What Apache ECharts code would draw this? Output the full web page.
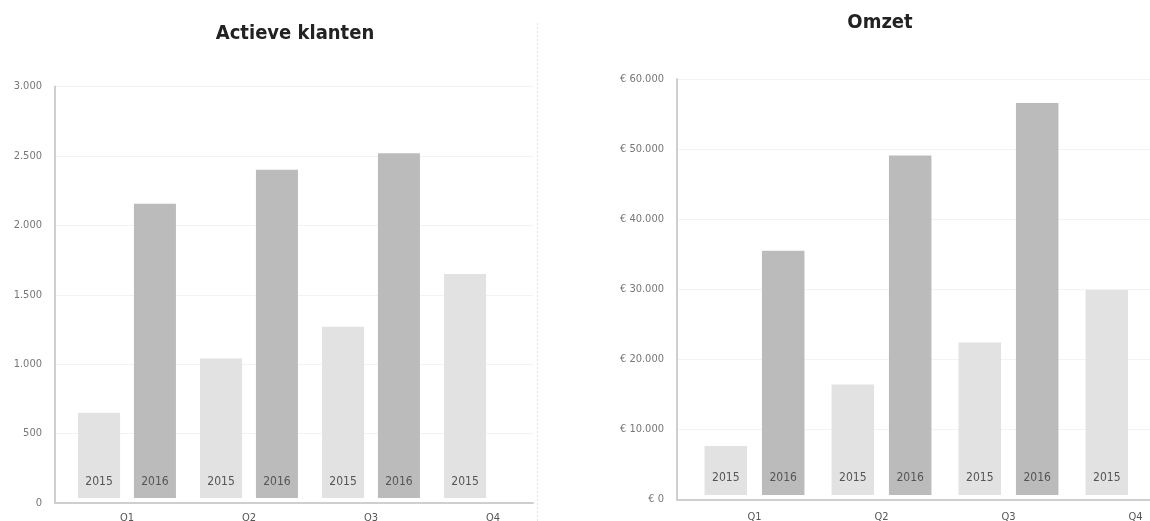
<!DOCTYPE html>
<html>
<head>
<meta charset="utf-8">
<script src="https://cdn.jsdelivr.net/npm/echarts@6/dist/echarts.min.js"></script>
<style>
html,body{margin:0;padding:0;background:#fff;}
#chart{width:1150px;height:521px;}
</style>
</head>
<body>
<div id="chart"></div>
<script>
// ---- data ----
const categories = ['Q1', 'Q2', 'Q3', 'Q4'];
const seriesNames = ['2015', '2016'];
const klanten2015 = [650, 1040, 1270, 1650];
const klanten2016 = [2155, 2400, 2520, null];
const omzet2015 = [7600, 16400, 22400, 29900];
const omzet2016 = [35500, 49100, 56600, null];
const klantenAxis = { min: 0, max: 3000, interval: 500 };
const omzetAxis = { min: 0, max: 60000, interval: 10000 };
const titles = ['Actieve klanten', 'Omzet'];

// ---- helpers ----
function nl(v) { return String(v).replace(/\B(?=(\d{3})+(?!\d))/g, '.'); }
const FONT = 'DejaVu Sans Condensed';
const C2015 = '#e2e2e2', C2016 = '#bbbbbb';

function barSeries(name, data, color, xi, yi, bw, gap) {
  return {
    type: 'bar', name: name, data: data, xAxisIndex: xi, yAxisIndex: yi,
    barWidth: bw, barGap: gap, itemStyle: { color: color },
    silent: true, z: 2,
    label: {
      show: true, position: 'insideBottom', distance: 15, formatter: '{a}',
      color: '#555', fontFamily: FONT, fontSize: 12
    }
  };
}

const chart = echarts.init(document.getElementById('chart'), null, { renderer: 'canvas' });
const axisLineStyle = { color: '#cfcfcf', width: 2 };
chart.setOption({
  animation: false,
  backgroundColor: '#fff',
  title: [
    { text: titles[0], left: 295, top: 24, textAlign: 'center', padding: 0,
      textStyle: { fontFamily: FONT, fontWeight: 'bold', fontSize: 20, color: '#222' } },
    { text: titles[1], left: 880, top: 13, textAlign: 'center', padding: 0,
      textStyle: { fontFamily: FONT, fontWeight: 'bold', fontSize: 20, color: '#222' } }
  ],
  grid: [
    { left: 55, top: 86.5, width: 478, height: 416.5, outerBoundsMode: 'none' },
    { left: 66, top: 86.5, width: 488, height: 416.5, outerBoundsMode: 'none' },
    { left: 677, top: 79.3, width: 473, height: 420, outerBoundsMode: 'none' },
    { left: 691, top: 79.3, width: 508, height: 420, outerBoundsMode: 'none' }
  ],
  xAxis: [
    { gridIndex: 0, type: 'category', data: categories, z: 6, axisLine: { lineStyle: axisLineStyle },
      axisTick: { show: false }, axisLabel: { show: false }, splitLine: { show: false } },
    { gridIndex: 1, type: 'category', data: categories, z: 5,
      axisLine: { show: true, lineStyle: { color: '#ffffff', width: 10 } },
      axisTick: { show: false },
      axisLabel: { margin: 10, color: '#555', fontFamily: FONT, fontSize: 11 } },
    { gridIndex: 2, type: 'category', data: categories, z: 6, axisLine: { lineStyle: axisLineStyle },
      axisTick: { show: false }, axisLabel: { show: false }, splitLine: { show: false } },
    { gridIndex: 3, type: 'category', data: categories, z: 5,
      axisLine: { show: true, lineStyle: { color: '#ffffff', width: 10 } },
      axisTick: { show: false },
      axisLabel: { margin: 12, color: '#555', fontFamily: FONT, fontSize: 11 } }
  ],
  yAxis: [
    { gridIndex: 0, type: 'value', min: klantenAxis.min, max: klantenAxis.max, interval: klantenAxis.interval,
      axisLine: { show: true, lineStyle: axisLineStyle }, axisTick: { show: false },
      splitLine: { lineStyle: { color: '#f3f3f3', width: 1 } },
      axisLabel: { margin: 13, color: '#777', fontFamily: FONT, fontSize: 11, formatter: nl } },
    { gridIndex: 1, type: 'value', min: klantenAxis.min, max: klantenAxis.max, show: false },
    { gridIndex: 2, type: 'value', min: omzetAxis.min, max: omzetAxis.max, interval: omzetAxis.interval,
      axisLine: { show: true, lineStyle: axisLineStyle }, axisTick: { show: false },
      splitLine: { lineStyle: { color: '#f3f3f3', width: 1 } },
      axisLabel: { margin: 13, color: '#777', fontFamily: FONT, fontSize: 11,
        formatter: function (v) { return '€ ' + nl(v); } } },
    { gridIndex: 3, type: 'value', min: omzetAxis.min, max: omzetAxis.max, show: false }
  ],
  graphic: [
    { type: 'line', silent: true, z: 20, shape: { x1: 537.5, y1: 23, x2: 537.5, y2: 521 },
      style: { stroke: '#e4e4e4', lineWidth: 1, lineDash: [2, 2] } }
  ],
  series: [
    barSeries(seriesNames[0], klanten2015, C2015, 1, 1, 42, '33%'),
    barSeries(seriesNames[1], klanten2016, C2016, 1, 1, 42, '33%'),
    barSeries(seriesNames[0], omzet2015, C2015, 3, 3, 42.5, '35%'),
    barSeries(seriesNames[1], omzet2016, C2016, 3, 3, 42.5, '35%')
  ]
});
</script>
</body>
</html>
